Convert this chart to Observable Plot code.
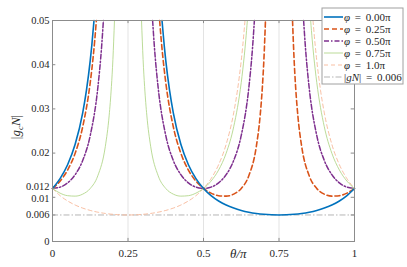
<!DOCTYPE html>
<html>
<head>
<meta charset="utf-8">
<script src="https://cdn.jsdelivr.net/npm/d3@7"></script>
<script src="https://cdn.jsdelivr.net/npm/@observablehq/plot@0.6"></script>
<style>
  html, body { margin: 0; padding: 0; background: #fff; }
  #chart { position: relative; width: 407px; height: 267px; }
</style>
</head>
<body>
<div id="chart"></div>
<script>
// ---- data ----
const xTicks = [0, 0.25, 0.5, 0.75, 1];
const xTickLabels = ["0", "0.25", "0.5", "0.75", "1"];
const yTicks = [0, 0.006, 0.01, 0.012, 0.02, 0.03, 0.04, 0.05];
const yTickLabels = ["0", "0.006", "0.01", "0.012", "0.02", "0.03", "0.04", "0.05"];
const seriesValues = ["0.00π", "0.25π", "0.50π", "0.75π", "1.0π"];
const refValue = "0.006";
const gN = 0.006;

const theta000 = [0,0.025,0.05,0.075,0.1,0.1125,0.125,0.13,0.1374,0.25,0.3626,0.37,0.375,0.3875,0.4,0.425,0.45,0.475,0.5,0.525,0.55,0.575,0.6,0.625,0.65,0.675,0.7,0.725,0.75,0.775,0.8,0.825,0.85,0.875,0.9,0.925,0.95,0.975,1];
const val000 = [0.012,0.01422,0.01737,0.02198,0.02911,0.03423,0.04097,0.04428,0.05,null,0.05,0.04428,0.04097,0.03423,0.02911,0.02198,0.01737,0.01422,0.012,0.010377,0.009167,0.008253,0.007558,0.00703,0.006633,0.006346,0.00615,0.006037,0.006,0.006037,0.00615,0.006346,0.006633,0.00703,0.007558,0.008253,0.009167,0.010377,0.012];

const theta025 = [0,0.025,0.05,0.075,0.1,0.125,0.135,0.14,0.1452,0.25,0.3548,0.36,0.365,0.375,0.4,0.425,0.45,0.475,0.5,0.525,0.55,0.575,0.6,0.625,0.65,0.675,0.6875,0.695,0.7,0.7052,0.75,0.7948,0.8,0.805,0.8125,0.825,0.85,0.875,0.9,0.925,0.95,0.975,1];
const val025 = [0.012,0.013661,0.016166,0.019967,0.025954,0.036,0.041996,0.045625,0.05,null,0.05,0.045625,0.041996,0.036,0.025954,0.019967,0.016166,0.013661,0.012,0.010941,0.010368,0.010263,0.010715,0.012,0.014866,0.021543,0.028418,0.03502,0.041152,0.05,null,0.05,0.041152,0.03502,0.028418,0.021543,0.014866,0.012,0.010715,0.010263,0.010368,0.010941,0.012];

const theta050 = [0,0.025,0.05,0.075,0.1,0.125,0.15,0.1625,0.1685,0.25,0.3315,0.3375,0.35,0.375,0.4,0.425,0.45,0.475,0.5,0.525,0.55,0.575,0.6,0.625,0.65,0.6625,0.6685,0.75,0.8315,0.8375,0.85,0.875,0.9,0.925,0.95,0.975,1];
const val050 = [0.012,0.012301,0.013267,0.015115,0.018335,0.024,0.034732,0.04396,0.05,null,0.05,0.04396,0.034732,0.024,0.018335,0.015115,0.013267,0.012301,0.012,0.012301,0.013267,0.015115,0.018335,0.024,0.034732,0.04396,0.05,null,0.05,0.04396,0.034732,0.024,0.018335,0.015115,0.013267,0.012301,0.012];

const theta075 = [0,0.025,0.05,0.075,0.1,0.125,0.15,0.175,0.1875,0.195,0.2,0.2052,0.25,0.2948,0.3,0.305,0.3125,0.325,0.35,0.375,0.4,0.425,0.45,0.475,0.5,0.525,0.55,0.575,0.6,0.625,0.635,0.64,0.6452,0.75,0.8548,0.86,0.865,0.875,0.9,0.925,0.95,0.975,1];
const val075 = [0.012,0.010941,0.010368,0.010263,0.010715,0.012,0.014866,0.021543,0.028418,0.03502,0.041152,0.05,null,0.05,0.041152,0.03502,0.028418,0.021543,0.014866,0.012,0.010715,0.010263,0.010368,0.010941,0.012,0.013661,0.016166,0.019967,0.025954,0.036,0.041996,0.045625,0.05,null,0.05,0.045625,0.041996,0.036,0.025954,0.019967,0.016166,0.013661,0.012];

const theta100 = [0,0.025,0.05,0.075,0.1,0.125,0.15,0.175,0.2,0.225,0.25,0.275,0.3,0.325,0.35,0.375,0.4,0.425,0.45,0.475,0.5,0.525,0.55,0.575,0.6,0.6125,0.625,0.63,0.6374,0.75,0.8626,0.87,0.875,0.8875,0.9,0.925,0.95,0.975,1];
const val100 = [0.012,0.010377,0.009167,0.008253,0.007558,0.00703,0.006633,0.006346,0.00615,0.006037,0.006,0.006037,0.00615,0.006346,0.006633,0.00703,0.007558,0.008253,0.009167,0.010377,0.012,0.01422,0.01737,0.02198,0.02911,0.03423,0.04097,0.04428,0.05,null,0.05,0.04428,0.04097,0.03423,0.02911,0.02198,0.01737,0.01422,0.012];

// ---- styles ----
const styles = [
  {stroke: "#0072BD", strokeWidth: 1.6, dash: null},
  {stroke: "#D95319", strokeWidth: 1.6, dash: "5,3"},
  {stroke: "#7E2F8E", strokeWidth: 1.5, dash: "5,2,1.5,2"},
  {stroke: "#b3d78c", strokeWidth: 0.9, dash: null},
  {stroke: "#f7b898", strokeWidth: 0.9, dash: "4,3"}
];
const refStyle = {stroke: "#b5b5b5", strokeWidth: 1, dash: "6,2,1.5,2"};

const thetas = [theta000, theta025, theta050, theta075, theta100];
const vals = [val000, val025, val050, val075, val100];
const toRows = (t, v) => t.map((x, i) => ({x, y: v[i]}));

const serif = "Liberation Serif, DejaVu Serif, serif";
const axisColor = "#8c8c8c";
const textColor = "#262626";

const lineMarks = [4, 3, 2, 1, 0].map(k => Plot.line(toRows(thetas[k], vals[k]), {
  x: "x", y: "y", curve: "monotone-x",
  stroke: styles[k].stroke, strokeWidth: styles[k].strokeWidth,
  strokeDasharray: styles[k].dash
}));

// y tick labels: nudge the two crowded labels apart a little
const yLabelOffset = v => (v === 0.012 ? -1.5 : v === 0.01 ? 1.5 : 0);
const yTickRows = yTicks.map((v, i) => ({v, label: yTickLabels[i]}));

const chart = Plot.plot({
  width: 407,
  height: 267,
  marginLeft: 52,
  marginRight: 53,
  marginTop: 20,
  marginBottom: 26,
  style: {fontFamily: serif, fontSize: "10.5px", color: textColor, background: "#fff"},
  x: {domain: [0, 1], axis: null},
  y: {domain: [0, 0.05], axis: null},
  marks: [
    Plot.gridX(xTicks.slice(1, -1), {stroke: "#e3e3e3", strokeOpacity: 1}),
    Plot.ruleY([gN], {stroke: refStyle.stroke, strokeWidth: refStyle.strokeWidth, strokeDasharray: refStyle.dash}),
    ...lineMarks,
    Plot.frame({stroke: axisColor, strokeWidth: 1}),
    Plot.ruleY(yTicks, {y: d => d, x1: 0, x2: 0.011, stroke: axisColor}),
    Plot.ruleY(yTicks, {y: d => d, x1: 0.989, x2: 1, stroke: axisColor}),
    Plot.ruleX(xTicks, {x: d => d, y1: 0, y2: 0.0007, stroke: axisColor}),
    Plot.ruleX(xTicks, {x: d => d, y1: 0.0493, y2: 0.05, stroke: axisColor}),
    Plot.text(xTicks, {x: d => d, text: (d, i) => xTickLabels[i], frameAnchor: "bottom", dy: 12, lineAnchor: "middle",
      fontFamily: serif, fontSize: 11, fill: textColor}),
    ...yTickRows.map(r => Plot.text([r], {y: "v", text: "label", frameAnchor: "left", dx: -3, dy: yLabelOffset(r.v),
      textAnchor: "end", lineAnchor: "middle", fontFamily: serif, fontSize: 10.5, fill: textColor})),
    Plot.text(["θ/π"], {x: 0.615, frameAnchor: "bottom", dy: 12, lineAnchor: "middle", fontStyle: "italic",
      fontFamily: serif, fontSize: 13, fill: textColor})
  ]
});
document.getElementById("chart").appendChild(chart);

// ---- y label with subscript ----
const svg = d3.select(chart);
const ylab = svg.append("text")
  .attr("transform", "translate(20,127) rotate(-90)")
  .attr("text-anchor", "middle")
  .attr("font-family", serif)
  .attr("font-size", 13)
  .attr("fill", textColor);
ylab.append("tspan").text("|");
ylab.append("tspan").attr("font-style", "italic").text("g");
ylab.append("tspan").attr("font-style", "italic").attr("font-size", 9).attr("dy", 3).text("c");
ylab.append("tspan").attr("font-style", "italic").attr("dy", -3).text("N");
ylab.append("tspan").text("|");

// ---- legend ----
const leg = svg.append("g");
const lx = 322, ly = 8, lw = 81, lh = 76, rowH = 12, row0 = 17;
leg.append("rect").attr("x", lx).attr("y", ly).attr("width", lw).attr("height", lh)
  .attr("fill", "#fff").attr("stroke", "#a0a0a0").attr("stroke-width", 1);
const legItems = seriesValues.map((v, i) => ({value: v, style: styles[i], ref: false}))
  .concat([{value: refValue, style: refStyle, ref: true}]);
legItems.forEach((it, i) => {
  const cy = row0 + i * rowH;
  leg.append("line").attr("x1", lx + 2).attr("x2", lx + 21).attr("y1", cy).attr("y2", cy)
    .attr("stroke", it.style.stroke).attr("stroke-width", it.style.strokeWidth)
    .attr("stroke-dasharray", it.style.dash);
  const t = leg.append("text").attr("x", lx + 22).attr("y", cy).attr("dy", "0.35em")
    .attr("text-anchor", "start")
    .attr("font-family", serif).attr("font-size", 11).attr("fill", textColor);
  if (!it.ref) {
    t.append("tspan").attr("font-style", "italic").text("φ");
  } else {
    t.append("tspan").text("|");
    t.append("tspan").attr("font-style", "italic").text("gN");
    t.append("tspan").text("|");
  }
  t.append("tspan").attr("dx", 2).text(" = ");
  t.append("tspan").attr("dx", 2).text(it.value);
});
</script>
</body>
</html>
